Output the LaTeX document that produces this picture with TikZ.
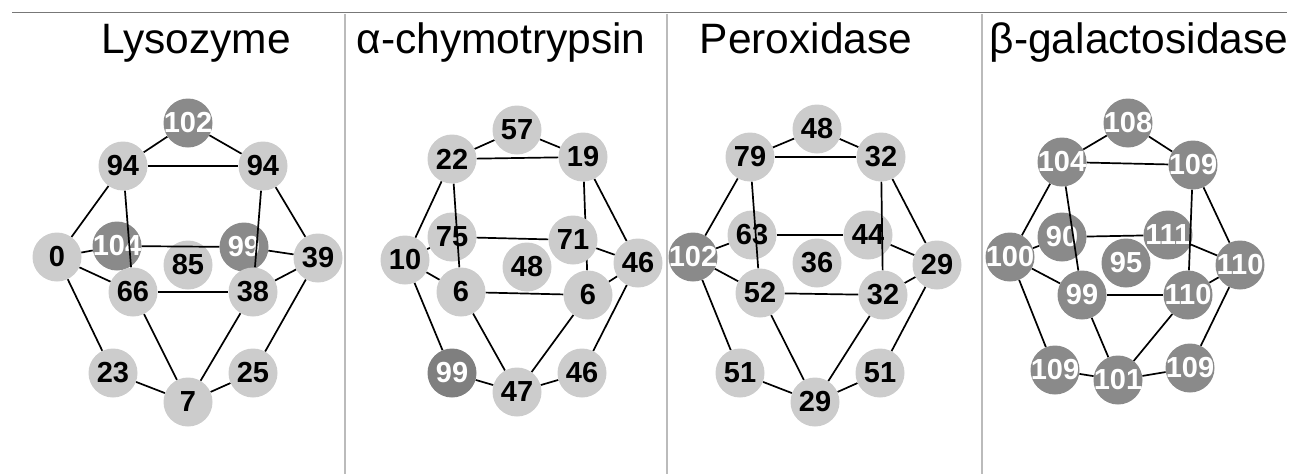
\documentclass[tikz,border=0pt]{standalone}
\usepackage{fontspec}
\setmainfont{Liberation Sans}
\usepackage{tikz}
\usetikzlibrary{backgrounds}

\definecolor{lightnode}{HTML}{CCCCCC}
\definecolor{darknode}{HTML}{8A8A8A}
\definecolor{rulegray}{HTML}{777777}
\definecolor{sepgray}{HTML}{BBBBBB}

\pgfdeclarelayer{back}
\pgfdeclarelayer{edges}
\pgfsetlayers{back,edges,main}

\begin{document}
\begin{tikzpicture}[x=1pt, y=-1pt,
    light/.style={circle, fill=lightnode, minimum size=49pt, inner ysep=0pt, inner xsep=-10pt,
      font=\bfseries\fontsize{29pt}{29pt}\selectfont, text=black},
    dark/.style={light, fill=darknode, text=white},
    title/.style={anchor=base, font=\fontsize{42.5pt}{42.5pt}\selectfont},
    link/.style={draw=black, line width=1.7pt}]
        \useasboundingbox (0,0) rectangle (1297,474);

        % frame
        \draw[rulegray, line width=1.4pt] (12,12.5) -- (1287,12.5);
        \draw[sepgray, line width=1.5pt] (345,14) -- (345,474);
        \draw[sepgray, line width=1.5pt] (667,14) -- (667,474);
        \draw[sepgray, line width=1.5pt] (982,14) -- (982,474);

        % titles
        \node[title] (t1) at (196,53) {Lysozyme};
        \node[title] (t2) at (501,53) {α-chymotrypsin};
        \node[title] (t3) at (806,53) {Peroxidase};
        \node[title] (t4) at (1139,53) {β-galactosidase};

        % Lysozyme
        \begin{pgfonlayer}{back}
        \node[dark] (ly104) at (117,246) {104};
        \node[light] (ly85) at (188,265) {85};
        \node[dark] (ly99) at (244,247) {99};
        \end{pgfonlayer}
        \node[dark] (ly102) at (188,123) {102};
        \node[light] (lyA94) at (123,166) {94};
        \node[light] (lyB94) at (263,166) {94};
        \node[light] (ly0) at (57,257) {0};
        \node[light] (ly39) at (318,258) {39};
        \node[light] (ly66) at (133,292) {66};
        \node[light] (ly38) at (253,292) {38};
        \node[light] (ly23) at (113,373) {23};
        \node[light] (ly7) at (188,402) {7};
        \node[light] (ly25) at (253,373) {25};

        % alpha-chymotrypsin
        \begin{pgfonlayer}{back}
        \node[light] (ch75) at (452,237) {75};
        \node[light] (ch48) at (527,267) {48};
        \end{pgfonlayer}
        \node[light] (ch57) at (517,130) {57};
        \node[light] (ch22) at (452,159) {22};
        \node[light] (ch19) at (583,157) {19};
        \node[light] (ch10) at (405,260) {10};
        \node[light] (ch71) at (573,240) {71};
        \node[light] (chA46) at (638,263) {46};
        \node[light] (chA6) at (461,292) {6};
        \node[light] (chB6) at (588,295) {6};
        \node[dark, fill=darknode!92!black] (ch99) at (452,373) {99};
        \node[light] (ch47) at (517,392) {47};
        \node[light] (chB46) at (582,373) {46};

        % Peroxidase
        \begin{pgfonlayer}{back}
        \node[light] (pe63) at (752,235) {63};
        \node[light] (pe44) at (868,235) {44};
        \node[light] (pe36) at (817,263) {36};
        \end{pgfonlayer}
        \node[light] (pe48) at (817,129) {48};
        \node[light] (pe79) at (750,157) {79};
        \node[light] (peA32) at (881,157) {32};
        \node[dark] (pe102) at (693,257) {102};
        \node[light] (peA29) at (937,265) {29};
        \node[light] (pe52) at (760,293) {52};
        \node[light] (peB32) at (883,295) {32};
        \node[light] (peA51) at (740,373) {51};
        \node[light] (peB29) at (815,402) {29};
        \node[light] (peB51) at (880,373) {51};

        % beta-galactosidase
        \begin{pgfonlayer}{back}
        \node[dark] (ga90) at (1062,237) {90};
        \node[dark] (ga111) at (1168,235) {111};
        \node[dark] (ga95) at (1126,263) {95};
        \end{pgfonlayer}
        \node[dark] (ga108) at (1128,123) {108};
        \node[dark] (ga104) at (1062,162) {104};
        \node[dark] (gaA109) at (1193,165) {109};
        \node[dark] (ga100) at (1010,257) {100};
        \node[dark] (gaA110) at (1240,265) {110};
        \node[dark] (ga99) at (1082,295) {99};
        \node[dark] (gaB110) at (1188,295) {110};
        \node[dark] (gaB109) at (1055,370) {109};
        \node[dark] (ga101) at (1118,380) {101};
        \node[dark] (gaC109) at (1190,368) {109};

        \begin{pgfonlayer}{edges}
        \path[link]
            (ly102) edge (lyA94) (ly102) edge (lyB94) (lyA94) edge (lyB94)
            (lyA94) edge (ly0) (lyA94) edge (ly66)
            (lyB94) edge (ly38) (lyB94) edge (ly39)
            (ly0) edge (ly104) (ly0) edge (ly66) (ly0) edge (ly23)
            (ly104) edge (ly99) (ly99) edge (ly39)
            (ly66) edge (ly38) (ly38) edge (ly39) (ly39) edge (ly25)
            (ly66) edge (ly7) (ly38) edge (ly7)
            (ly23) edge (ly7) (ly25) edge (ly7);
        \path[link]
            (ch22) edge (ch57) (ch57) edge (ch19) (ch22) edge (ch19)
            (ch22) edge (ch10) (ch22) edge (chA6)
            (ch19) edge (chB6) (ch19) edge (chA46)
            (ch10) edge (ch75) (ch10) edge (chA6) (ch10) edge (ch99)
            (ch75) edge (ch71) (ch71) edge (chA46)
            (chA6) edge (chB6) (chB6) edge (chA46) (chA46) edge (chB46)
            (chA6) edge (ch47) (chB6) edge (ch47)
            (ch99) edge (ch47) (chB46) edge (ch47);
        \path[link]
            (pe79) edge (pe48) (pe48) edge (peA32) (pe79) edge (peA32)
            (pe79) edge (pe102) (pe79) edge (pe52)
            (peA32) edge (peB32) (peA32) edge (peA29)
            (pe102) edge (pe63) (pe102) edge (pe52) (pe102) edge (peA51)
            (pe63) edge (pe44) (pe44) edge (peA29)
            (pe52) edge (peB32) (peB32) edge (peA29) (peA29) edge (peB51)
            (pe52) edge (peB29) (peB32) edge (peB29)
            (peA51) edge (peB29) (peB51) edge (peB29);
        \path[link]
            (ga104) edge (ga108) (ga108) edge (gaA109) (ga104) edge (gaA109)
            (ga104) edge (ga100) (ga104) edge (ga99)
            (gaA109) edge (gaB110) (gaA109) edge (gaA110)
            (ga100) edge (ga90) (ga100) edge (ga99) (ga100) edge (gaB109)
            (ga90) edge (ga111) (ga111) edge (gaA110)
            (ga99) edge (gaB110) (gaB110) edge (gaA110) (gaA110) edge (gaC109)
            (ga99) edge (ga101) (gaB110) edge (ga101)
            (gaB109) edge (ga101) (gaC109) edge (ga101);
        \end{pgfonlayer}
    \end{tikzpicture}
\end{document}
